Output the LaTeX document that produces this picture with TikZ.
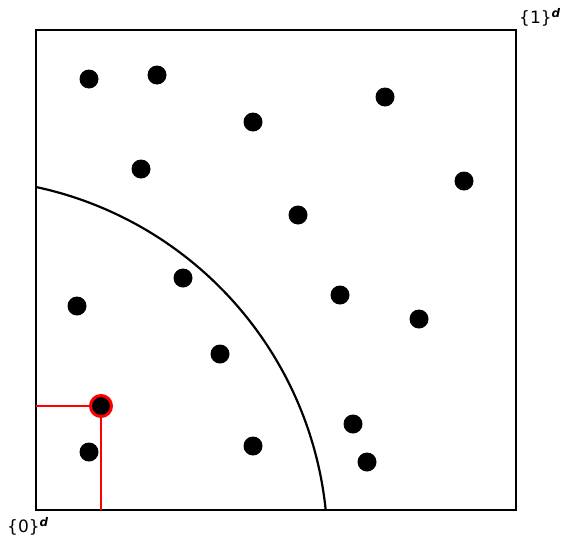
\documentclass[tikz,border=0pt]{standalone}
\usepackage{fontspec}
\setmainfont{DejaVu Sans}
\begin{document}
\begin{tikzpicture}[x=1pt,y=-1pt,
  dot/.style={circle,fill=black,inner sep=0pt,minimum size=19pt},
  lbl/.style={font=\fontsize{17}{19}\selectfont,inner sep=0pt}]
\useasboundingbox (0,0) rectangle (564,541);
\coordinate (ll) at (36,510);
\coordinate (ur) at (516,30);
\draw[line width=2.4pt] (ll) rectangle (ur);
% points
\foreach \n/\x/\y in {a/89/79,b/157/75,c/385/97,d/253/122,e/141/169,f/464/181,
  g/298/215,h/183/278,i/340/295,j/77/306,k/419/319,l/220/354,m/353/424,
  n/89/452,o/253/446,p/367/462}
  \node[dot] (\n) at (\x,\y) {};
\node[dot,draw=red,line width=3pt,minimum size=21pt] (r) at (101,406) {};
\coordinate (rl) at (36,406);
\coordinate (rb) at (101,510);
\draw[red,line width=1.1pt] (rl) -- (r.west);
\draw[red,line width=1.1pt] (r.south) -- (rb);
% quarter curve
\draw[line width=2.2pt] (36,187) arc[start angle=-77.9,end angle=-5.8,radius=369];
\node[lbl] (z) at (28,526) {\{0\}\textsuperscript{\textbf{\textit{d}}}};
\node[lbl] (one) at (540,17) {\{1\}\textsuperscript{\textbf{\textit{d}}}};
\end{tikzpicture}
\end{document}
